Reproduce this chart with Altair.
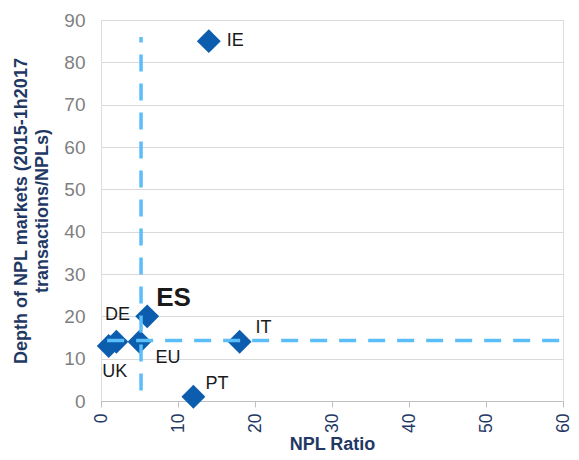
import altair as alt
import pandas as pd

# ---- data ----
countries = ["IE", "ES", "PT", "IT", "EU", "DE", "UK"]
npl_ratio = [14, 6, 12, 18, 5, 2, 1]
npl_depth = [85, 20, 1, 14, 14, 14, 13]

vline_x = [5.2]
vline_y = [2.5]
vline_y2 = [86]

hline_y = [14.3]
hline_x = [0.8]
hline_x2 = [60]

x_ticks = [0, 10, 20, 30, 40, 50, 60]
y_ticks = [0, 10, 20, 30, 40, 50, 60, 70, 80, 90]

df = pd.DataFrame({"country": countries, "npl": npl_ratio, "depth": npl_depth})
vdf = pd.DataFrame({"x": vline_x, "y": vline_y, "y2": vline_y2})
hdf = pd.DataFrame({"y": hline_y, "x": hline_x, "x2": hline_x2})

FONT = "Liberation Sans"
NAVY = "#1F3864"
x_scale = alt.Scale(domain=[0, 60], nice=False, zero=False)
y_scale = alt.Scale(domain=[0, 90], nice=False, zero=False)

x_axis = alt.Axis(
    values=x_ticks, labelAngle=270, labelColor=NAVY, labelFontSize=17.5, labelFont=FONT,
    tickColor="#BFBFBF", domainColor="#BFBFBF", tickSize=6, labelPadding=6,
    grid=False, titleFont=FONT, titleFontSize=18, titleFontWeight="bold",
    titleColor=NAVY, titleBaseline="alphabetic", titleY=48,
)
y_axis = alt.Axis(
    values=y_ticks, grid=True, gridColor="#D9D9D9", domain=False, ticks=False,
    labelColor="#7F7F7F", labelFontSize=19, labelFont=FONT, labelPadding=16,
    titleFont=FONT, titleFontSize=18, titleFontWeight="bold", titleColor=NAVY,
    titlePadding=12, titleLineHeight=21,
)

points = alt.Chart(df).mark_point(
    shape="diamond", filled=True, size=570, color="#0D5DAF", opacity=1
).encode(
    x=alt.X("npl:Q", scale=x_scale, axis=x_axis, title="NPL Ratio"),
    y=alt.Y("depth:Q", scale=y_scale, axis=y_axis,
            title=["Depth of NPL markets (2015-1h2017", "transactions/NPLs)"]),
)

# label placement (style, not data)
label_style = {
    "IE": dict(dx=18, dy=0, align="left", size=18, weight="normal"),
    "ES": dict(dx=9, dy=-18, align="left", size=26, weight="bold"),
    "PT": dict(dx=12, dy=-13, align="left", size=18, weight="normal"),
    "IT": dict(dx=16, dy=-14, align="left", size=18, weight="normal"),
    "EU": dict(dx=16, dy=16, align="left", size=18, weight="normal"),
    "DE": dict(dx=1, dy=-27, align="center", size=18, weight="normal"),
    "UK": dict(dx=6, dy=26, align="center", size=18, weight="normal"),
}

label_layers = []
for c in countries:
    s = label_style[c]
    label_layers.append(
        alt.Chart(df).transform_filter(alt.datum.country == c).mark_text(
            dx=s["dx"], dy=s["dy"], align=s["align"], baseline="middle",
            fontSize=s["size"], fontWeight=s["weight"], font=FONT, color="#1A1A1A",
        ).encode(
            x=alt.X("npl:Q", scale=x_scale),
            y=alt.Y("depth:Q", scale=y_scale),
            text="country:N",
        )
    )

vline = alt.Chart(vdf).mark_rule(
    color="#5BBEF8", strokeWidth=3.5, strokeDash=[17, 12]
).encode(
    x=alt.X("x:Q", scale=x_scale), y=alt.Y("y:Q", scale=y_scale), y2="y2:Q"
)
hline = alt.Chart(hdf).mark_rule(
    color="#5BBEF8", strokeWidth=3.5, strokeDash=[17, 12]
).encode(
    y=alt.Y("y:Q", scale=y_scale), x=alt.X("x:Q", scale=x_scale), x2="x2:Q"
)

chart = alt.layer(points, *label_layers, vline, hline).properties(
    width=462, height=381,
    autosize=alt.AutoSizeParams(type="none"),
    padding={"left": 93, "top": 12, "right": 8, "bottom": 51},
).configure_view(stroke=None).configure(background="white")

chart.save("out.html", embed_options={"renderer": "svg", "actions": False})
